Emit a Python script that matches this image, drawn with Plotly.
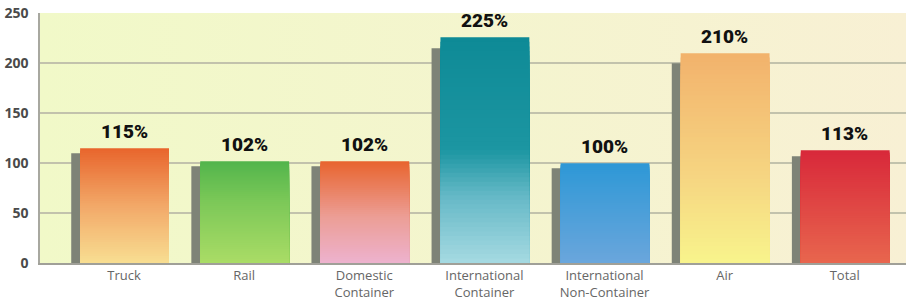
import base64
import plotly.graph_objects as go

categories = ["Truck", "Rail", "Domestic<br>Container", "International<br>Container",
              "International<br>Non-Container", "Air", "Total"]
values = [115, 102, 102, 226, 100, 210, 113]
shadow_values = [110, 97, 97, 215, 95, 200, 107]
labels = ["115%", "102%", "102%", "225%", "100%", "210%", "113%"]
y_ticks = [0, 50, 100, 150, 200, 250]

# gradient stops per bar: (fraction from bottom, colour)
gradients = [
    [(0.0, "#F8DE92"), (0.5, "#F2A868"), (1.0, "#E8652C")],
    [(0.0, "#AADC66"), (0.6, "#7CC858"), (1.0, "#52B54C")],
    [(0.0, "#EDB2CE"), (0.45, "#EC9E96"), (1.0, "#E8642E")],
    [(0.0, "#A6DAE2"), (0.3, "#64B8C6"), (0.5, "#1C96A2"), (1.0, "#0E8A96")],
    [(0.0, "#6AA6DC"), (1.0, "#2E98D6")],
    [(0.0, "#F8F48C"), (0.4, "#F6D682"), (1.0, "#F2B26C")],
    [(0.0, "#E8664E"), (1.0, "#D8283A")],
]


def hex2rgb(h):
    h = h.lstrip("#")
    return tuple(int(h[i:i + 2], 16) for i in (0, 2, 4))


def interp(stops, t):
    for (t0, c0), (t1, c1) in zip(stops[:-1], stops[1:]):
        if t <= t1:
            f = 0 if t1 == t0 else (t - t0) / (t1 - t0)
            a, b = hex2rgb(c0), hex2rgb(c1)
            return "rgb(%d,%d,%d)" % tuple(round(a[i] + (b[i] - a[i]) * f) for i in range(3))
    return stops[-1][1]


xs = list(range(len(categories)))
N = 50

fig = go.Figure()

# shadow bars
fig.add_trace(go.Bar(x=xs, y=shadow_values, width=0.22, offset=-0.44,
                     marker=dict(color="#7E8377", line=dict(width=0)),
                     hoverinfo="skip", showlegend=False))

# gradient main bars: nested bars, tallest first, each shorter one drawn over it
for k in range(N, 0, -1):
    t = (k - 0.5) / N
    fig.add_trace(go.Bar(
        x=xs, y=[v * k / N for v in values],
        width=0.74, offset=-0.366,
        marker=dict(color=[interp(g, t) for g in gradients], line=dict(width=0)),
        hoverinfo="skip", showlegend=False))

for x, v, lab in zip(xs, values, labels):
    fig.add_annotation(x=x, y=v, text=lab, showarrow=False, yanchor="bottom", yshift=3,
                       font=dict(family="Roboto", size=19, color="#111", weight=900))

svg = ('<svg xmlns="http://www.w3.org/2000/svg" width="100" height="100" preserveAspectRatio="none">'
       '<defs><linearGradient id="g" x1="0" y1="0" x2="1" y2="0">'
       '<stop offset="0" stop-color="#F1F9C8"/><stop offset="0.5" stop-color="#F4F5CE"/>'
       '<stop offset="1" stop-color="#F8F0D4"/></linearGradient></defs>'
       '<rect width="100" height="100" fill="url(#g)"/></svg>')
src = "data:image/svg+xml;base64," + base64.b64encode(svg.encode()).decode()

fig.update_layout(
    width=906, height=304,
    margin=dict(l=40, r=0, t=13, b=41),
    paper_bgcolor="white", plot_bgcolor="#F4F5CE",
    barmode="overlay",
    images=[dict(source=src, xref="paper", yref="paper", x=0, y=1, sizex=1, sizey=1,
                 sizing="stretch", xanchor="left", yanchor="top", layer="below")],
    xaxis=dict(range=[-0.7, 6.51], tickvals=xs, ticktext=categories,
               tickfont=dict(family="Open Sans", size=13, color="#666"),
               showgrid=False, showline=True, linecolor="#A0A098", linewidth=1.5,
               ticks="", zeroline=False, fixedrange=True),
    yaxis=dict(range=[0, 250.4], tickvals=y_ticks,
               tickfont=dict(family="Open Sans", size=14, color="#4A4A4A", weight="bold"),
               showgrid=True, gridcolor="#C2C2AC", gridwidth=1.5,
               showline=True, linecolor="#A8A8A0", linewidth=1.5,
               ticks="outside", ticklen=7, tickcolor="rgba(0,0,0,0)",
               zeroline=False, fixedrange=True),
)

fig.write_html("out.html", config={"displayModeBar": False},
               post_script="document.body.style.margin='0px';")
